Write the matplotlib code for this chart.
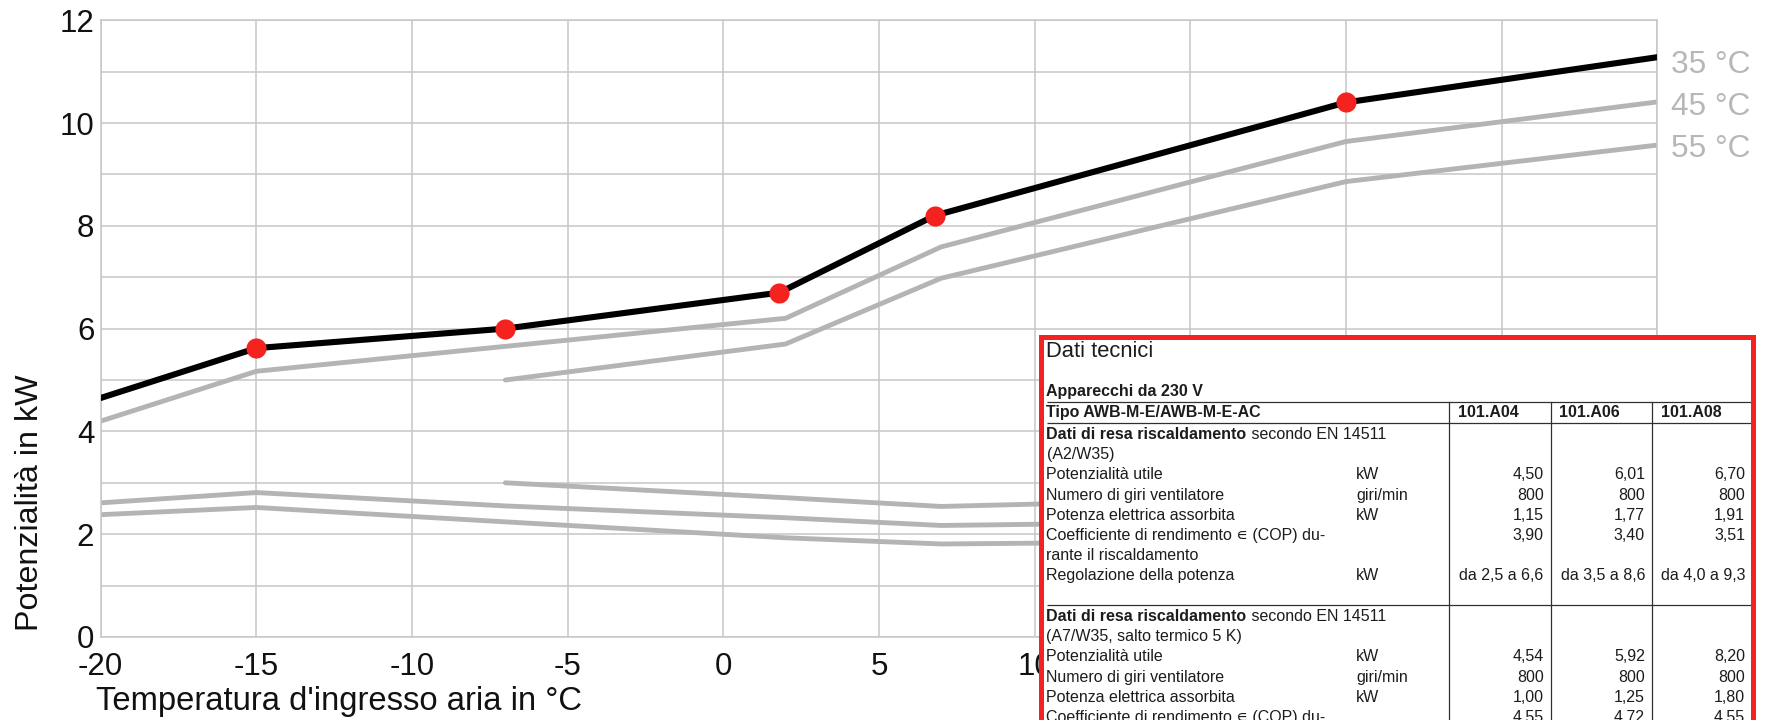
import matplotlib
matplotlib.use("Agg")
import matplotlib.pyplot as plt
from matplotlib.ticker import MultipleLocator

plt.rcParams["font.family"] = ["Liberation Sans", "DejaVu Sans"]
plt.rcParams["axes.unicode_minus"] = False

W, H, DPI = 1769, 720, 100

# Heating capacity (kW) against air inlet temperature (°C), per flow temperature
t_35 = [-20, -15, -7, 1.8, 6.8, 20, 30]
p_35 = [4.65, 5.62, 6.00, 6.70, 8.20, 10.40, 11.28]
marked_35 = [1, 2, 3, 4, 5]          # indices of the rated points

t_45 = [-20, -15, 2, 7, 20, 30]
p_45 = [4.20, 5.17, 6.20, 7.59, 9.64, 10.41]

t_55 = [-7, 2, 7, 20, 30]
p_55 = [5.00, 5.70, 6.98, 8.86, 9.57]

# Electrical power input curves (kW)
t_el_a = [-7, 2, 7, 11]
p_el_a = [3.00, 2.71, 2.54, 2.60]
t_el_b = [-20, -15, -7, 2, 7, 11]
p_el_b = [2.61, 2.81, 2.55, 2.32, 2.17, 2.20]
t_el_c = [-20, -15, -7, 2, 7, 11]
p_el_c = [2.38, 2.52, 2.24, 1.93, 1.81, 1.83]

curve_labels = ["35 °C", "45 °C", "55 °C"]

x_label = "Temperatura d'ingresso aria in °C"
y_label = "Potenzialità in kW"

# Technical data sheet
table_title = "Dati tecnici"
table_subtitle = "Apparecchi da 230 V"
model_label = "Tipo AWB-M-E/AWB-M-E-AC"
models = ["101.A04", "101.A06", "101.A08"]
section_bold = "Dati di resa riscaldamento"
section_rest = " secondo EN 14511"
cond_a2 = "(A2/W35)"
rows_a2 = [
    ("Potenzialità utile", "kW", ["4,50", "6,01", "6,70"]),
    ("Numero di giri ventilatore", "giri/min", ["800", "800", "800"]),
    ("Potenza elettrica assorbita", "kW", ["1,15", "1,77", "1,91"]),
    ("Coefficiente di rendimento \u220a (COP) du-", "", ["3,90", "3,40", "3,51"]),
    ("rante il riscaldamento", "", ["", "", ""]),
    ("Regolazione della potenza", "kW", ["da 2,5 a 6,6", "da 3,5 a 8,6", "da 4,0 a 9,3"]),
]
cond_a7 = "(A7/W35, salto termico 5 K)"
rows_a7 = [
    ("Potenzialità utile", "kW", ["4,54", "5,92", "8,20"]),
    ("Numero di giri ventilatore", "giri/min", ["800", "800", "800"]),
    ("Potenza elettrica assorbita", "kW", ["1,00", "1,25", "1,80"]),
    ("Coefficiente di rendimento \u220a (COP) du-", "", ["4,55", "4,72", "4,55"]),
    ("rante il riscaldamento", "", ["", "", ""]),
]

GRID = "#c6c6c6"
CURVE = "#b4b4b4"
RED = "#f4231f"
INK = "#1c1c1c"


def px_box(x0, y0, x1, y1):
    """Figure-fraction rectangle from pixel edges (y measured from the top)."""
    return [x0 / W, 1 - y1 / H, (x1 - x0) / W, (y1 - y0) / H]


fig = plt.figure(figsize=(W / DPI, H / DPI), dpi=DPI)
ax = fig.add_axes(px_box(100.7, 20.2, 1657.2, 637))

ax.set_xlim(-20, 30)
ax.set_ylim(0, 12)
ax.xaxis.set_major_locator(MultipleLocator(5))
ax.yaxis.set_major_locator(MultipleLocator(2))
ax.yaxis.set_minor_locator(MultipleLocator(1))
ax.grid(True, which="both", color=GRID, lw=1.1, zorder=0)
ax.set_axisbelow(True)
for sp in ax.spines.values():
    sp.set_color(GRID)
    sp.set_linewidth(1.1)
ax.tick_params(which="both", length=0, labelsize=22.5, colors="#111111")
ax.tick_params(axis="x", pad=10.6)
ax.tick_params(axis="y", pad=4.6)

kw = dict(color=CURVE, lw=3.5, solid_capstyle="round", solid_joinstyle="round", zorder=2)
for tt, pp in [(t_45, p_45), (t_55, p_55), (t_el_a, p_el_a), (t_el_b, p_el_b), (t_el_c, p_el_c)]:
    ax.plot(tt, pp, **kw)
ax.plot(t_35, p_35, color="black", lw=4.4, solid_joinstyle="round", zorder=3)
ax.plot([t_35[i] for i in marked_35], [p_35[i] for i in marked_35], "o",
        color=RED, ms=14.5, mec="none", zorder=4)

for lbl, tt, pp, dy in zip(curve_labels, [t_35, t_45, t_55], [p_35, p_45, p_55], [-11.5, -9.4, -8.7]):
    ax.annotate(lbl, xy=(tt[-1], pp[-1]), xytext=(9.6, dy), textcoords="offset points",
                ha="left", va="baseline", fontsize=22.8, color="#b7b7b7", annotation_clip=False)

ax.set_xlabel(x_label, fontsize=23.6, loc="left", color="#111111")
ax.xaxis.set_label_coords(-0.003, (637 - 686) / 616.8)
ax.set_ylabel(y_label, fontsize=23.2, loc="bottom", color="#111111")
ax.yaxis.set_label_coords((45 - 100.7) / 1556.5, 0.01)

# ---- technical data panel ----
tab = fig.add_axes(px_box(1041, 336.7, 1753, 800))
tab.set_zorder(10)
tab.set_facecolor("white")
tab.set_xlim(1041, 1753)
tab.set_ylim(800, 336.7)
tab.set_xticks([])
tab.set_yticks([])
for s in ("left", "top", "right"):
    tab.spines[s].set_color(RED)
    tab.spines[s].set_linewidth(3.6)
tab.spines["bottom"].set_visible(False)

FS = 11.5
X_TEXT = 1046.5
X_UNIT = 1356
X_COL_LINES = [1449.4, 1550.7, 1652]
X_HEAD = [1458, 1559, 1660.5]
X_NUM = [1543.7, 1645, 1745]
RULE_L, RULE_R = 1046.5, 1751
STEP = 20.2

renderer = fig.canvas.get_renderer()


def put(x, y, s, bold=False, ha="left", size=FS):
    return tab.text(x, y, s, ha=ha, va="baseline", fontsize=size,
                    fontweight="bold" if bold else "normal", color=INK)


def rule(y):
    tab.plot([RULE_L, RULE_R], [y, y], color="#303030", lw=0.9, solid_capstyle="butt")


def section_heading(y):
    t = put(X_TEXT, y, section_bold, bold=True)
    w = t.get_window_extent(renderer).width
    put(X_TEXT + w, y, section_rest)


def data_rows(y0, rows):
    for k, (name, unit, vals) in enumerate(rows):
        y = y0 + k * STEP
        put(X_TEXT, y, name)
        if unit:
            put(X_UNIT, y, unit)
        for xr, v in zip(X_NUM, vals):
            if v:
                put(xr, y, v, ha="right")


put(X_TEXT, 356.7, table_title, size=15.8)
put(X_TEXT, 396, table_subtitle, bold=True)
rule(401.7)
put(X_TEXT, 417.3, model_label, bold=True)
for xh, m in zip(X_HEAD, models):
    put(xh, 417.3, m, bold=True)
rule(423.3)
for xv in X_COL_LINES:
    tab.plot([xv, xv], [401.7, 800], color="#303030", lw=0.9)

section_heading(439)
put(X_TEXT, 459.2, cond_a2)
data_rows(479.5, rows_a2)
rule(605)
section_heading(621.3)
put(X_TEXT, 641.3, cond_a7)
data_rows(661.5, rows_a7)

fig.savefig("out.png", dpi=DPI)
